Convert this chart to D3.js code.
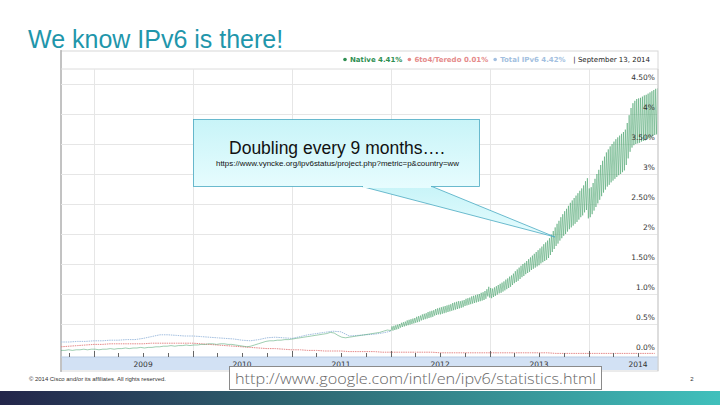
<!DOCTYPE html>
<html>
<head>
<meta charset="utf-8">
<script src="https://cdn.jsdelivr.net/npm/d3@7"></script>
<style>
  html, body { margin: 0; padding: 0; background: #fff; }
  svg { display: block; }
</style>
</head>
<body>
<svg id="slide" width="720" height="405"></svg>
<script>
// Native IPv6 %, one value every 14 days starting 2008-09-01
const nativeEarlyStart = new Date(2008, 8, 1);
const nativeEarly = [
  .06, .06, .07, .06, .07, .07, .08, .07, .08, .08, .07, .08, .08, .09, .08, .09,
  .09, .10, .09, .10, .10, .11, .10, .11, .11, .12, .12, .13, .13, .14, .13, .14,
  .14, .15, .14, .15, .15, .16, .16, .17, .17, .16, .17, .17, .16, .16, .15, .14,
  .13, .12, .13, .15, .17, .19, .21, .22, .22, .23, .23, .24, .24, .25, .26, .27,
  .28, .29, .30, .31, .32, .33, .34, .36, .35, .31, .28, .27, .28, .29, .30, .31,
  .32, .33, .34, .35, .36, .38, .40
];

// Native IPv6 %, weekday low / weekend high pairs, weekly from 2012-01-02
const nativeLateStart = new Date(2012, 0, 2);
const nativeLate = [
  .39,.46, .39,.47, .40,.48, .41,.49, .42,.50, .44,.52, .45,.53, .46,.54, .47,.56, .48,.57, .49,.58, .50,.59, .51,.60,
  .52,.62, .53,.63, .54,.64, .56,.66, .57,.67, .58,.68, .59,.70, .60,.71, .61,.72, .62,.73, .64,.75, .65,.76, .66,.77,
  .66,.78, .67,.79, .68,.80, .69,.81, .70,.82, .71,.83, .72,.85, .73,.86, .74,.87, .75,.88, .76,.88, .77,.89, .78,.90,
  .80,.92, .81,.93, .82,.94, .83,.96, .84,.97, .85,.98, .86,.99, .87,1.00, .88,1.02, .89,1.03, .90,1.05, .92,1.08, .96,1.12,
  .94,1.10, .93,1.09, .95,1.11, .97,1.13, .99,1.15, 1.01,1.17, 1.02,1.19, 1.04,1.21, 1.06,1.24, 1.08,1.26, 1.10,1.29, 1.12,1.31, 1.15,1.34,
  1.18,1.38, 1.20,1.41, 1.22,1.44, 1.25,1.47, 1.28,1.50, 1.30,1.52, 1.33,1.55, 1.35,1.58, 1.37,1.61, 1.40,1.64, 1.42,1.67, 1.44,1.70, 1.46,1.73,
  1.48,1.76, 1.51,1.79, 1.53,1.83, 1.55,1.86, 1.57,1.89, 1.60,1.93, 1.65,1.99, 1.70,2.05, 1.75,2.11, 1.80,2.17, 1.84,2.22, 1.89,2.28, 1.93,2.33,
  1.97,2.38, 2.00,2.42, 2.04,2.47, 2.08,2.52, 2.11,2.56, 2.14,2.60, 2.17,2.64, 2.20,2.68, 2.24,2.72, 2.28,2.76, 2.31,2.81, 2.36,2.88, 2.40,2.93,
  2.26,2.76, 2.28,2.78, 2.33,2.85, 2.39,2.92, 2.45,3.00, 2.51,3.07, 2.57,3.15, 2.63,3.22, 2.69,3.29, 2.74,3.36, 2.79,3.41, 2.82,3.46, 2.86,3.50,
  2.89,3.54, 2.92,3.58, 2.95,3.61, 2.98,3.64, 3.00,3.67, 3.03,3.70, 3.06,3.74, 3.15,3.85, 3.26,3.98, 3.37,4.10, 3.44,4.18, 3.48,4.22, 3.50,4.25,
  3.51,4.26, 3.52,4.27, 3.54,4.29, 3.55,4.31, 3.56,4.32, 3.58,4.34, 3.59,4.36, 3.61,4.38, 3.63,4.40, 3.65,4.42, 3.66,4.43
];

// Total IPv6 %, monthly from 2008-09 (merges with native after 2011)
const monthStart = new Date(2008, 8, 1);
const totalMonthly = [
  .20, .20, .21, .21, .22, .22, .23, .23, .24, .24, .26, .29, .32, .32, .31, .30,
  .30, .29, .28, .27, .26, .25, .23, .22, .24, .27, .28, .27, .26, .29, .32, .34,
  .36, .38, .37, .30, .31, .32, .33, .35, .38
];

// 6to4/Teredo %, monthly from 2008-09
const teredoMonthly = [
  .12, .13, .14, .15, .16, .16, .17, .17, .17, .17, .17, .18, .18, .18, .18, .18,
  .18, .17, .16, .15, .14, .13, .12, .11, .10, .09, .09, .08, .07, .07, .06, .06,
  .05, .05, .05, .04, .04, .04, .04, .03, .03, .03, .03, .03, .03, .03, .02, .02,
  .02, .02, .02, .02, .02, .02, .02, .02, .02, .02, .02, .02, .01, .01, .01, .01,
  .01, .01, .01, .01, .01, .01, .01, .01, .01
];

const yTicks = [0, 0.5, 1, 1.5, 2, 2.5, 3, 3.5, 4, 4.5];
const yTickLabels = ["0.0%", "0.5%", "1.0%", "1.50%", "2%", "2.50%", "3%", "3.50%", "4%", "4.50%"];
const years = [2009, 2010, 2011, 2012, 2013, 2014];
const legendItems = [
  { name: "Native 4.41%", color: "#2f8f52" },
  { name: "6to4/Teredo 0.01%", color: "#e58a8a" },
  { name: "Total IPv6 4.42%", color: "#a3bfe0" }
];
const legendDate = "| September 13, 2014";

const svg = d3.select("#slide");
const DAY = 864e5;

// plot frame
const pLeft = 61, pRight = 658, pTop = 69, pBottom = 354;
const x = d3.scaleTime()
  .domain([new Date(2008, 8, 1), new Date(2014, 8, 13)])
  .range([pLeft, pRight]);
const y = d3.scaleLinear().domain([0, 4.5]).range([pBottom, 84]);

// gradients
const defs = svg.append("defs");
const bar = defs.append("linearGradient").attr("id", "bar");
bar.append("stop").attr("offset", "0").attr("stop-color", "#23254a");
bar.append("stop").attr("offset", "0.4").attr("stop-color", "#2e6470");
bar.append("stop").attr("offset", "1").attr("stop-color", "#40c0bc");
const cyan = defs.append("linearGradient").attr("id", "cyan")
  .attr("x1", 0).attr("y1", 0).attr("x2", 0).attr("y2", 1);
cyan.append("stop").attr("offset", "0").attr("stop-color", "#c8f4f8");
cyan.append("stop").attr("offset", "1").attr("stop-color", "#e6fcfe");
defs.append("clipPath").attr("id", "plotClip")
  .append("rect").attr("x", pLeft).attr("y", pTop).attr("width", pRight - pLeft).attr("height", pBottom - pTop + 1);

svg.append("rect").attr("x", 0).attr("y", 391).attr("width", 720).attr("height", 14).attr("fill", "url(#bar)");

// title
svg.append("text").attr("x", 28).attr("y", 48)
  .attr("font-family", "Liberation Sans, Arial, sans-serif").attr("font-size", 25)
  .attr("fill", "#1f96ab").text("We know IPv6 is there!");

// chart image border
svg.append("rect").attr("x", pLeft).attr("y", 51).attr("width", pRight - pLeft).attr("height", 320)
  .attr("fill", "#fff").attr("stroke", "#d8d8d8");
svg.append("line").attr("x1", pLeft).attr("x2", pLeft).attr("y1", 50).attr("y2", 372).attr("stroke", "#9a9a9a");
svg.append("line").attr("x1", pLeft).attr("x2", pRight).attr("y1", pTop).attr("y2", pTop).attr("stroke", "#dcdcdc");

// legend header
let lx = 345;
const lg = svg.append("g").attr("font-family", "DejaVu Sans, Verdana, sans-serif").attr("font-size", 7).attr("font-weight", "bold");
legendItems.forEach(d => {
  lg.append("circle").attr("cx", lx).attr("cy", 59.5).attr("r", 1.8).attr("fill", d.color);
  const t = lg.append("text").attr("x", lx + 5).attr("y", 62).attr("fill", d.color).text(d.name);
  lx += 5 + t.node().getComputedTextLength() + 7;
});
lg.append("text").attr("x", 650).attr("y", 62).attr("text-anchor", "end")
  .attr("font-weight", "normal").attr("fill", "#222").text(legendDate);

// gridlines
const grid = svg.append("g").attr("stroke", "#e6e6e6").attr("stroke-width", 1);
grid.selectAll("line.h").data(yTicks.filter(v => v > 0)).join("line")
  .attr("x1", pLeft).attr("x2", pRight).attr("y1", d => Math.round(y(d)) + 0.5).attr("y2", d => Math.round(y(d)) + 0.5);
grid.selectAll("line.v").data(years).join("line")
  .attr("x1", d => Math.round(x(new Date(d, 0, 1))) + 0.5).attr("x2", d => Math.round(x(new Date(d, 0, 1))) + 0.5)
  .attr("y1", pTop).attr("y2", pBottom);

// series
const plot = svg.append("g").attr("clip-path", "url(#plotClip)");
const line = d3.line().x(d => x(d[0])).y(d => y(d[1]));

const totalPts = totalMonthly.map((v, i) => [d3.timeMonth.offset(monthStart, i), v]);
const teredoPts = teredoMonthly.map((v, i) => [d3.timeMonth.offset(monthStart, i), v]);
const nativePts = nativeEarly.map((v, i) => [new Date(+nativeEarlyStart + i * 14 * DAY), v])
  .concat(nativeLate.map((v, i) => [new Date(+nativeLateStart + i * 3.5 * DAY), v]));

plot.append("path").datum(totalPts).attr("d", line)
  .attr("fill", "none").attr("stroke", "#a3bfe0").attr("stroke-width", 1).attr("stroke-dasharray", "1.5,0.8");
plot.append("path").datum(teredoPts).attr("d", line)
  .attr("fill", "none").attr("stroke", "#e58a8a").attr("stroke-width", 1).attr("stroke-dasharray", "1.5,0.8");
plot.append("path").datum(nativePts).attr("d", line)
  .attr("fill", "none").attr("stroke", "#3a9b5f").attr("stroke-width", 0.55).attr("stroke-opacity", 0.9);

// y labels (drawn over the plot, right side)
svg.append("g").attr("font-family", "DejaVu Sans, Verdana, sans-serif").attr("font-size", 7.5).attr("fill", "#333")
  .selectAll("text").data(yTicks).join("text")
  .attr("x", 655).attr("y", d => y(d) - 4).attr("text-anchor", "end")
  .text((d, i) => yTickLabels[i]);

// x axis: ticks and blue band
svg.append("rect").attr("x", pLeft + 1).attr("y", 357).attr("width", pRight - pLeft - 1).attr("height", 13)
  .attr("fill", "#d2e1f4");
svg.append("line").attr("x1", pLeft).attr("x2", pRight).attr("y1", 357).attr("y2", 357).attr("stroke", "#b8cce4");
const quarters = d3.timeMonth.every(3).range(new Date(2008, 9, 1), new Date(2014, 8, 13));
svg.append("g").attr("stroke", "#666").selectAll("line").data(quarters).join("line")
  .attr("x1", d => Math.round(x(d)) + 0.5).attr("x2", d => Math.round(x(d)) + 0.5)
  .attr("y1", d => d.getMonth() === 0 ? 351 : 353).attr("y2", 357);
svg.append("g").attr("font-family", "DejaVu Sans, Verdana, sans-serif").attr("font-size", 7.5).attr("fill", "#333")
  .selectAll("text").data(years).join("text")
  .attr("x", d => Math.min(x(new Date(d, 6, 1)), 642)).attr("y", 367).attr("text-anchor", "middle")
  .text(d => d);
svg.append("line").attr("x1", pRight).attr("x2", pRight).attr("y1", pTop).attr("y2", 371).attr("stroke", "#cfcfcf");

// callout
const callout = svg.append("g");
callout.append("path")
  .attr("d", "M362,186.5 L555,237 L432,186.5 Z")
  .attr("fill", "url(#cyan)").attr("stroke", "#4aaac2").attr("stroke-width", 0.8);
callout.append("rect").attr("x", 193.5).attr("y", 119.5).attr("width", 286).attr("height", 67)
  .attr("fill", "url(#cyan)").attr("stroke", "#4aaac2").attr("stroke-width", 0.8);
callout.append("rect").attr("x", 363).attr("y", 185).attr("width", 68).attr("height", 3).attr("fill", "#e6fcfe");
callout.append("text").attr("x", 337).attr("y", 154).attr("text-anchor", "middle")
  .attr("font-family", "Liberation Sans, Arial, sans-serif").attr("font-size", 17.5).attr("fill", "#111")
  .text("Doubling every 9 months….");
callout.append("text").attr("x", 216).attr("y", 166)
  .attr("font-family", "Liberation Sans, Arial, sans-serif").attr("font-size", 6.8).attr("fill", "#111")
  .attr("textLength", 243).attr("lengthAdjust", "spacingAndGlyphs")
  .text("https://www.vyncke.org/ipv6status/project.php?metric=p&country=ww");

// footer
svg.append("text").attr("x", 29).attr("y", 381)
  .attr("font-family", "Liberation Sans, Arial, sans-serif").attr("font-size", 5.5).attr("fill", "#333")
  .attr("textLength", 137).attr("lengthAdjust", "spacingAndGlyphs")
  .text("© 2014 Cisco and/or its affiliates. All rights reserved.");
svg.append("text").attr("x", 692).attr("y", 381).attr("text-anchor", "middle")
  .attr("font-family", "Liberation Sans, Arial, sans-serif").attr("font-size", 6).attr("fill", "#333").text("2");

svg.append("rect").attr("x", 229.5).attr("y", 366.5).attr("width", 372).attr("height", 23)
  .attr("fill", "#fff").attr("stroke", "#8a8a8a");
svg.append("text").attr("x", 235).attr("y", 384)
  .attr("font-family", "Open Sans, sans-serif").attr("font-weight", 300).attr("font-size", 15).attr("fill", "#666")
  .attr("textLength", 361).attr("lengthAdjust", "spacingAndGlyphs")
  .text("http://www.google.com/intl/en/ipv6/statistics.html");
</script>
</body>
</html>
